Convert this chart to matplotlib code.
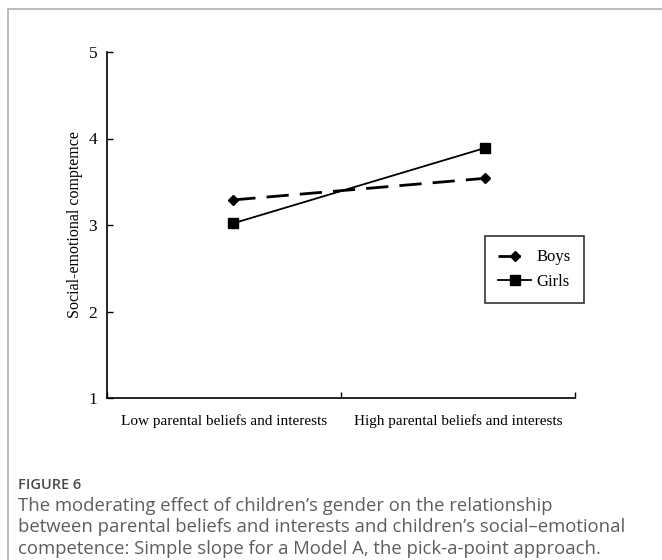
import matplotlib.pyplot as plt
from matplotlib.patches import Rectangle

# category positions along the x axis (0..2, ticks at 0, 1, 2)
x_pos = [0.54, 1.615]
categories = ["Low parental beliefs and interests", "High parental beliefs and interests"]

boys = [3.29, 3.54]
girls = [3.02, 3.89]

yticks = [1, 2, 3, 4, 5]

caption_title = "FIGURE 6"
caption_lines = [
    "The moderating effect of children\u2019s gender on the relationship",
    "between parental beliefs and interests and children\u2019s social\u2013emotional",
    "competence: Simple slope for a Model A, the pick-a-point approach.",
]

serif = ["Liberation Serif", "DejaVu Serif"]
sans = ["Open Sans", "DejaVu Sans"]

fig = plt.figure(figsize=(6.62, 5.6), dpi=100)
W, H = 662, 560

# outer frame (top and left grey rule)
fig.add_artist(Rectangle((7.5 / W, -0.1), 1.2, (1 - 8.5 / H) + 0.1,
                         transform=fig.transFigure, fill=False,
                         edgecolor="#b0b0b0", lw=1.2))

ax = fig.add_axes([107 / W, 1 - 398 / H, (575 - 107) / W, (398 - 52) / H])

ax.plot(x_pos, boys, color="black", lw=2.0, ls=(0, (8, 4)),
        marker="D", markersize=5.5, label="Boys")
ax.plot(x_pos, girls, color="black", lw=1.3, ls="-",
        marker="s", markersize=7.5, label="Girls")

ax.set_xlim(0, 2)
ax.set_ylim(1, 5)
ax.set_yticks(yticks)
ax.set_xticks([0, 1, 2])
ax.set_xticklabels([])
ax.set_xticks([0.5, 1.5], minor=True)
ax.set_xticklabels(categories, minor=True, fontfamily=serif, fontsize=11)
ax.tick_params(axis="x", which="minor", length=0, pad=12)
ax.tick_params(axis="x", which="major", direction="in", length=4, width=1)
ax.tick_params(axis="y", direction="in", length=4, width=1, pad=7)
for lab in ax.get_yticklabels():
    lab.set_fontfamily(serif)
    lab.set_fontsize(12.5)

for s in ["top", "right"]:
    ax.spines[s].set_visible(False)
for s in ["left", "bottom"]:
    ax.spines[s].set_linewidth(1.2)

ax.set_ylabel("Social-emotional comptemce", fontfamily=serif, fontsize=11.5, labelpad=4)

leg = ax.legend(loc="upper right", bbox_to_anchor=(584 / W, 1 - 236 / H),
                bbox_transform=fig.transFigure, frameon=True, fancybox=False,
                borderaxespad=0, prop={"family": serif, "size": 12},
                handlelength=2.0, borderpad=0.8, labelspacing=0.5,
                handletextpad=0.3)
leg.get_frame().set_edgecolor("black")
leg.get_frame().set_linewidth(1.2)

fig.text(18 / W, 1 - 485 / H, caption_title, fontfamily=sans, fontsize=10.5,
         fontweight="semibold", color="#4a4a4a", va="center")
for i, line in enumerate(caption_lines):
    fig.text(18 / W, 1 - (506 + 21.3 * i) / H, line, fontfamily=sans,
             fontsize=13.3, color="#5e5e5e", va="center")

fig.savefig("out.png", dpi=100, facecolor="white")
